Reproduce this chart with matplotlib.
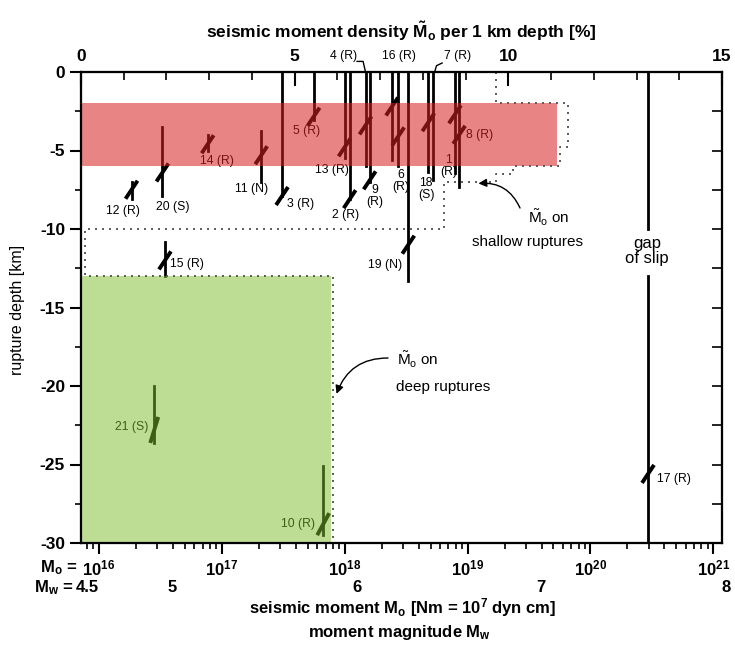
import numpy as np
import matplotlib
matplotlib.use('Agg')
import matplotlib.pyplot as plt
from matplotlib import font_manager
from matplotlib.patches import Rectangle
from matplotlib.ticker import MultipleLocator, LogLocator, NullFormatter, FixedLocator

names = font_manager.get_font_names()
fam = 'Liberation Sans Narrow' if 'Liberation Sans Narrow' in names else 'Liberation Sans'
plt.rcParams['font.family'] = [fam, 'DejaVu Sans']
plt.rcParams['mathtext.fontset'] = 'custom'
plt.rcParams['mathtext.rm'] = fam
plt.rcParams['mathtext.bf'] = fam + ':bold'
plt.rcParams['mathtext.it'] = fam + ':italic'
plt.rcParams['axes.unicode_minus'] = False

# events: number, mechanism, seismic moment [Nm], rupture top/bottom [km], depth of dip mark [km]
ev_num  = [12, 20, 14, 11, 3, 5, 13, 2, 4, 9, 16, 6, 19, 18, 7, 1, 8, 17, 15, 21, 10]
ev_mech = ['R', 'S', 'R', 'N', 'R', 'R', 'R', 'R', 'R', 'R', 'R',
           'R', 'N', 'S', 'R', 'R', 'R', 'R', 'R', 'S', 'R']
ev_m0   = [1.85e16, 3.3e16, 7.7e16, 2.1e17, 3.1e17, 5.6e17, 1.0e18, 1.1e18, 1.48e18, 1.6e18, 2.43e18,
           2.73e18, 3.3e18, 4.8e18, 5.25e18, 7.9e18, 8.55e18, 2.94e20, 3.46e16, 2.83e16, 6.7e17]
ev_top  = [-7.0, -3.5, -4.0, -3.75, 0, 0, 0, 0, 0, 0, 0,
           0, 0, 0, 0, 0, 0, 0, -10.8, -20.0, -25.1]
ev_bot  = [-8.1, -7.9, -5.0, -7.0, -7.9, -3.05, -5.5, -8.1, -6.0, -7.0, -5.6,
           -6.0, -13.3, -6.35, -6.9, -6.45, -7.3, -30.0, -13.0, -23.6, -29.5]
ev_dip  = [-7.5, -6.4, -4.6, -5.3, -7.9, -2.85, -4.8, -8.1, -3.4, -6.9, -2.2,
           -4.1, -11.0, -3.2, np.nan, -2.7, -4.0, -25.6, -12.0, -22.8, -28.8]

# gap of slip on event 17
gap_event = 17
slip_gap = (-10.0, -13.0)

# moment density per 1 km depth [%] (step profile)
prof_edges   = [0, -2, -4.8, -6, -6.5, -7, -10, -13, -30]
prof_density = [9.7, 11.4, 11.2, 10.1, 9.7, 8.5, 0.1, 5.9]

# shaded zones: top, bottom [km], width [%]
shallow_zone = (-2.0, -6.0, 11.15)
deep_zone    = (-13.0, -30.0, 5.85)

mw_ticks = [4.5, 5, 6, 7, 8]
m0_ticks = [1e16, 1e17, 1e18, 1e19, 1e20, 1e21]

# label placement: x offset [px], depth, ha, two lines?
lab = {12: (-9, -8.85, 'center', False), 20: (10, -8.6, 'center', False),
       14: (9, -5.7, 'center', False), 11: (-10, -7.47, 'center', False),
       3: (5, -8.4, 'left', False), 5: (-7, -3.73, 'center', False),
       13: (-13, -6.24, 'center', False), 2: (-4.5, -9.1, 'center', False),
       4: (-21.7, 1.0, 'center', False), 9: (5, -7.9, 'center', True),
       16: (7, 1.0, 'center', False), 6: (3, -6.95, 'center', True),
       19: (-6.6, -12.3, 'right', False), 18: (-2, -7.47, 'center', True),
       7: (24, 1.0, 'center', False), 1: (-6, -6.0, 'center', True),
       8: (7, -4.0, 'left', False), 17: (9, -25.95, 'left', False),
       15: (5, -12.2, 'left', False), 21: (-6, -22.6, 'right', False),
       10: (-8, -28.8, 'right', False)}
leaders = {4: [(-8.4, 10.6), (-2.4, 10.6), (0, 0)], 7: [(9, 9), (3.4, 6.3), (1.5, 0)]}
dip_size = {21: (4, 13), 10: (6, 11)}

W, H = 735, 646
fig = plt.figure(figsize=(W / 100, H / 100), dpi=100)
ax = fig.add_axes([81 / W, 1 - 543 / H, (722 - 81) / W, (543 - 72) / H])
ax.set_xscale('log')
ax.set_xlim(10**15.856, 10**21.07)
ax.set_ylim(-30, 0)

ax2 = ax.twiny()
ax2.set_xlim(0, 15)
ax3 = ax.twinx()
ax3.set_ylim(-30, 0)

for a in (ax, ax2, ax3):
    for s in a.spines.values():
        s.set_linewidth(1.5)

# ticks
ax.xaxis.set_major_locator(FixedLocator(m0_ticks))
ax.xaxis.set_minor_locator(LogLocator(base=10, subs=np.arange(2, 10)))
ax.xaxis.set_minor_formatter(NullFormatter())
ax.set_xticklabels([r'$\mathbf{10^{%d}}$' % int(np.log10(v)) for v in m0_ticks])
ax.tick_params(axis='x', which='major', direction='out', length=8, width=1.5, labelsize=12, pad=3)
ax.tick_params(axis='x', which='minor', direction='out', length=4, width=1.2)
ax.yaxis.set_major_locator(MultipleLocator(5))
ax.yaxis.set_minor_locator(MultipleLocator(2.5))
ax.tick_params(axis='y', which='major', direction='out', length=8, width=1.5, labelsize=12.5)
ax.tick_params(axis='y', which='minor', direction='out', length=4, width=1.2)
for t in ax.get_yticklabels():
    t.set_fontweight('bold')

ax2.xaxis.set_major_locator(MultipleLocator(5))
ax2.xaxis.set_minor_locator(MultipleLocator(1))
ax2.tick_params(axis='x', which='major', direction='in', length=10, width=1.5, labelsize=12.5, pad=6)
ax2.tick_params(axis='x', which='minor', direction='in', length=6, width=1.2)
for t in ax2.get_xticklabels():
    t.set_fontweight('bold')

ax3.yaxis.set_major_locator(MultipleLocator(2.5))
ax3.tick_params(axis='y', which='major', direction='in', length=7, width=1.2, labelright=False)

fig.canvas.draw()


def shift(x, d, dx, dy):
    X, Y = ax.transData.transform((x, d))
    return ax.transData.inverted().transform((X + dx, Y + dy))


# events
for n, m, x, top, bot, dip in zip(ev_num, ev_mech, ev_m0, ev_top, ev_bot, ev_dip):
    if n == gap_event:
        ax.plot([x, x], [top, slip_gap[0]], color='k', lw=2)
        ax.plot([x, x], [slip_gap[1], bot], color='k', lw=2)
    else:
        ax.plot([x, x], [top, bot], color='k', lw=2)
    if not np.isnan(dip):
        sx, sy = dip_size.get(n, (6, 9))
        p0 = shift(x, dip, -sx, -sy)
        p1 = shift(x, dip, sx, sy)
        ax.plot([p0[0], p1[0]], [p0[1], p1[1]], color='k', lw=2.8, solid_capstyle='butt')
    dx, d, ha, two = lab[n]
    txt = '%d\n(%s)' % (n, m) if two else '%d (%s)' % (n, m)
    ax.annotate(txt, xy=(x, d), xytext=(dx, 0), textcoords='offset pixels',
                ha=ha, va='center', fontsize=8.8, linespacing=1.0,
                annotation_clip=False)
    if n in leaders:
        pts = [shift(x, 0, a, b) for a, b in leaders[n]]
        ax.plot([p[0] for p in pts], [p[1] for p in pts], color='k', lw=1, clip_on=False)

# shaded zones (over the events, tinting them)
ax2.add_patch(Rectangle((0, shallow_zone[1]), shallow_zone[2], shallow_zone[0] - shallow_zone[1],
                        facecolor='#d62020', alpha=0.55, edgecolor='none'))
ax2.add_patch(Rectangle((0, deep_zone[1]), deep_zone[2], deep_zone[0] - deep_zone[1],
                        facecolor='#7dbd2d', alpha=0.5, edgecolor='none'))

# moment density profile
px = np.repeat(prof_density, 2)
py = np.repeat(prof_edges, 2)[1:-1]
ax2.plot(px, py, color='0.35', lw=1.4, linestyle=(0, (1, 2.6)))

# annotations
tm = r'$\tilde{\mathrm{M}}_\mathrm{o}$ on'
fig.text(549 / W, 1 - 218 / H, tm, ha='center', va='center', fontsize=11)
fig.text(527 / W, 1 - 242 / H, 'shallow ruptures', ha='center', va='center', fontsize=11)
fig.text(397 / W, 1 - 360 / H, tm, ha='left', va='center', fontsize=11)
fig.text(396 / W, 1 - 387 / H, 'deep ruptures', ha='left', va='center', fontsize=11)
ax2.annotate('', xy=(9.3, -7.1), xytext=(520, H - 208), textcoords='figure pixels',
             arrowprops=dict(arrowstyle='-|>', connectionstyle='arc3,rad=0.35', lw=1,
                             color='k', mutation_scale=12, shrinkA=0, shrinkB=0))
ax2.annotate('', xy=(5.98, -20.5), xytext=(388, H - 358), textcoords='figure pixels',
             arrowprops=dict(arrowstyle='-|>', connectionstyle='arc3,rad=0.35', lw=1,
                             color='k', mutation_scale=12, shrinkA=0, shrinkB=0))
fig.text(647 / W, 1 - 251 / H, 'gap\nof slip', ha='center', va='center', fontsize=12, linespacing=1.0)

# titles / axis labels
fig.text(401 / W, 1 - 31 / H,
         r'seismic moment density $\mathbf{\tilde{M}_o}$ per 1 km depth [%]',
         ha='center', va='center', fontsize=12.5, fontweight='bold')
fig.text(18 / W, 1 - 310 / H, 'rupture depth [km]', rotation=90, ha='center', va='center', fontsize=11.5)
fig.text(403 / W, 1 - 608 / H, r'seismic moment M$_\mathbf{o}$ [Nm = 10$^\mathbf{7}$ dyn cm]',
         ha='center', va='center', fontsize=12, fontweight='bold')
fig.text(400 / W, 1 - 633 / H, r'moment magnitude M$_\mathbf{w}$',
         ha='center', va='center', fontsize=12, fontweight='bold')
fig.text(40 / W, 1 - 568 / H, r'M$_\mathbf{o}$ =', ha='left', va='center', fontsize=12, fontweight='bold')

# moment magnitude row
for i, mw in enumerate(mw_ticks):
    m0 = 10**(1.5 * mw + 9.1)
    X, _ = ax.transData.transform((m0, 0))
    if i == 0:
        fig.text((X - 7) / W, 1 - 588 / H, r'M$_\mathbf{w}$ =', ha='right', va='center',
                 fontsize=12, fontweight='bold')
        fig.text((X - 5) / W, 1 - 588 / H, '%g' % mw, ha='left', va='center', fontsize=12, fontweight='bold')
    else:
        fig.text(X / W, 1 - 588 / H, '%g' % mw, ha='center', va='center', fontsize=12, fontweight='bold')

fig.savefig('out.png', dpi=100)
